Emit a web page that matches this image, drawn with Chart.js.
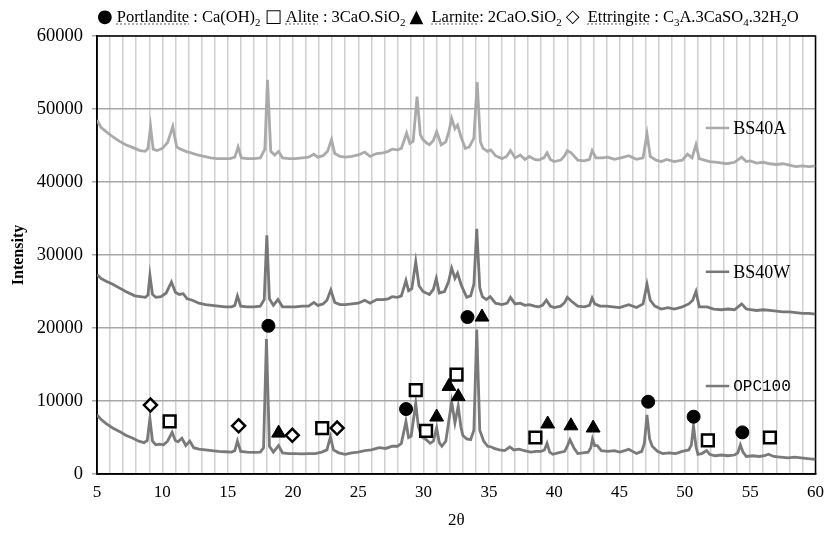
<!DOCTYPE html>
<html>
<head>
<meta charset="utf-8">
<script src="https://cdn.jsdelivr.net/npm/chart.js@4.4.0/dist/chart.umd.min.js"></script>
<style>
  body { margin: 0; background: #fff; }
  #wrap { position: relative; width: 832px; height: 533px; }
  #top-legend {
    position: absolute; top: 5px; left: 97px; white-space: nowrap;
    font-family: "Liberation Serif", serif; font-size: 16.5px; color: #000;
  }
  #top-legend .name { text-decoration: underline dotted #999; text-underline-offset: 2px; }
  #top-legend .sym { font-size: 18px; margin-right: 4px; font-family: "DejaVu Sans", sans-serif; }
  #top-legend sub { font-size: 11px; }
</style>
</head>
<body>
<div id="wrap">
  <canvas id="xrd_chart" width="832" height="533"></canvas>
  <div id="top-legend">
    <span class="sym">●</span><span class="name">Portlandite</span> : Ca(OH)<sub>2</sub>
    <span class="sym">□</span><span class="name">Alite</span> : 3CaO.SiO<sub>2</sub>
    <span class="sym">▲</span> <span class="name">Larnite</span>: 2CaO.SiO<sub>2</sub>
    <span class="sym">◇</span> <span class="name">Ettringite</span> : C<sub>3</sub>A.3CaSO<sub>4</sub>.32H<sub>2</sub>O
  </div>
</div>
<script>
// 2-theta positions and intensities
const opcX = [5.0,5.3,5.7,6.2,6.75,7.2,7.75,8.2,8.6,8.85,9.05,9.25,9.5,9.8,10.1,10.4,10.75,11.0,11.2,11.5,11.8,12.1,12.4,12.8,13.3,13.8,14.3,14.8,15.3,15.55,15.75,16.0,16.5,17.0,17.5,17.75,17.97,18.2,18.5,18.9,19.2,19.7,20.2,20.7,21.2,21.7,22.2,22.6,22.87,23.1,23.5,24.0,24.5,25.0,25.5,26.0,26.6,27.1,27.6,28.0,28.3,28.65,28.85,29.05,29.4,29.6,29.85,30.2,30.5,30.75,31.0,31.2,31.4,31.7,31.95,32.15,32.4,32.65,32.85,33.0,33.3,33.6,33.85,34.07,34.3,34.6,34.9,35.2,35.4,35.8,36.2,36.6,36.9,37.3,37.7,38.2,38.6,39.0,39.25,39.45,39.65,39.9,40.3,40.8,41.0,41.2,41.5,41.8,42.2,42.6,42.8,42.93,43.1,43.3,43.6,44.1,44.6,45.0,45.4,45.7,46.0,46.3,46.7,46.9,47.1,47.3,47.5,47.9,48.3,48.8,49.3,49.8,50.3,50.5,50.66,50.85,51.0,51.3,51.67,51.9,52.3,52.8,53.3,53.8,54.05,54.25,54.45,54.7,55.2,55.7,56.1,56.4,56.8,57.3,57.9,58.4,58.9,59.4,60.0];
const opcY = [8100,7500,6900,6300,5800,5300,4900,4500,4300,4600,7600,4500,4000,4100,4000,4500,5700,4600,4400,4900,3900,4500,3600,3400,3300,3200,3100,3050,3000,3200,4500,3100,3000,2950,3000,3600,18500,3800,3000,3900,2900,2800,2800,2750,2800,2800,3000,3300,5100,3300,2900,2700,2900,3000,3200,3300,3600,3500,3800,3800,4200,7200,5000,5200,9700,6500,5100,4700,4200,4500,6300,4300,3800,4500,7500,9900,7000,9300,6500,5300,4800,4700,6000,19800,6000,4500,3800,3700,3500,3300,3200,3700,3300,3400,3200,3000,3100,3100,3300,4200,3000,2700,2900,3100,3800,4700,3600,2800,2900,3000,3600,4800,3900,3900,3200,3100,3200,3000,3200,3400,3100,2800,3100,4200,8100,4800,3800,3100,2800,2900,2800,3100,3300,4000,6600,3800,2700,2800,3200,2700,2500,2600,2500,2600,2900,4000,3000,2400,2500,2400,2500,2700,2400,2300,2200,2300,2200,2100,2000];

const bswX = [5.0,5.3,5.7,6.2,6.7,7.2,7.9,8.3,8.7,8.9,9.05,9.25,9.5,9.9,10.3,10.7,11.0,11.3,11.6,11.9,12.3,12.8,13.3,13.8,14.3,14.8,15.3,15.55,15.75,16.0,16.5,17.0,17.5,17.8,18.0,18.2,18.5,18.85,19.2,19.7,20.2,20.7,21.2,21.6,21.9,22.3,22.6,22.9,23.2,23.6,24.0,24.5,25.0,25.5,25.9,26.4,26.9,27.3,27.6,28.0,28.3,28.65,28.85,29.1,29.4,29.65,29.95,30.2,30.45,30.75,30.97,31.2,31.6,31.9,32.15,32.4,32.6,32.9,33.3,33.6,33.85,34.07,34.3,34.5,34.8,35.1,35.5,36.0,36.4,36.65,37.0,37.4,37.75,38.1,38.5,38.8,39.1,39.4,39.7,40.0,40.5,40.8,41.0,41.3,41.8,42.3,42.7,42.9,43.1,43.5,44.0,44.5,45.0,45.7,46.3,46.8,47.1,47.35,47.7,48.2,48.7,49.2,49.8,50.3,50.6,50.85,51.1,51.7,52.2,52.8,53.3,53.8,54.35,54.7,55.5,56.0,56.5,57.0,57.5,58.0,58.5,59.0,59.5,60.0];
const bswY = [27300,26800,26400,26000,25500,25000,24400,24300,24200,24500,27200,24600,24200,24300,24800,26300,24900,24600,24700,24000,23800,23400,23200,23100,23000,22900,22900,23100,24400,23000,22900,22900,23000,23900,32700,24000,23100,23900,22900,22900,22900,23000,23000,23500,23100,23300,23800,25200,23500,23200,23200,23300,23400,23800,23400,23900,23900,24000,24300,24200,24400,26500,25100,25400,29100,25800,25000,24800,24600,25300,26800,24800,25000,26300,28200,26800,27500,25800,24200,24400,26000,33600,25500,24300,23900,24300,23400,23200,23400,24200,23300,23400,23100,23200,23000,22900,23100,23800,23000,22800,23000,23500,24200,23700,23000,22900,23100,24100,23300,23000,23000,22900,22800,23200,22800,23300,26000,23800,23000,22600,22800,22600,22900,23300,23800,25000,22900,22900,22600,22500,22600,22500,23300,22600,22400,22500,22400,22300,22200,22200,22100,22000,22000,21900];

const bsaX = [5.0,5.3,5.7,6.2,6.7,7.2,7.9,8.3,8.7,8.9,9.1,9.3,9.6,10.0,10.4,10.8,11.1,11.4,11.8,12.2,12.7,13.2,13.7,14.2,14.7,15.2,15.55,15.8,16.05,16.5,17.0,17.5,17.85,18.05,18.3,18.6,18.9,19.2,19.7,20.2,20.7,21.2,21.6,21.9,22.3,22.65,22.95,23.2,23.6,24.0,24.5,25.0,25.5,25.9,26.4,26.9,27.3,27.6,28.0,28.3,28.7,28.95,29.2,29.5,29.75,29.95,30.2,30.45,30.75,31.0,31.35,31.7,31.95,32.15,32.4,32.6,32.9,33.2,33.5,33.85,34.1,34.35,34.55,34.9,35.15,35.5,36.0,36.35,36.65,37.0,37.4,37.75,38.1,38.5,38.8,39.2,39.45,39.7,40.0,40.5,40.8,41.0,41.3,41.8,42.3,42.7,42.9,43.2,43.7,44.1,44.6,45.1,45.7,46.3,46.8,47.1,47.35,47.8,48.2,48.6,49.2,49.8,50.2,50.55,50.85,51.1,51.5,51.9,52.5,53.2,53.8,54.35,54.7,55.0,55.5,56.0,56.5,57.0,57.5,58.0,58.5,59.0,59.5,60.0];
const bsaY = [48500,47500,46900,46200,45600,45100,44600,44300,44200,44600,47600,44500,44300,44600,45400,47600,44800,44500,44200,44000,43700,43500,43300,43200,43200,43200,43400,44800,43300,43200,43200,43300,44500,54000,44200,43700,44200,43300,43200,43200,43300,43400,43800,43400,43600,44200,45800,43900,43500,43400,43500,43700,44100,43500,43900,44000,44200,44500,44400,44600,46700,45300,45600,51700,46500,45800,45400,45100,45700,46900,45100,45500,47000,48700,47300,47800,46000,44600,44800,46000,53700,45500,44600,44200,44400,43600,43200,43500,44300,43300,43700,43100,43500,43100,43000,43300,44000,43100,42800,43000,43600,44300,44000,43000,42900,43100,44300,43300,43300,43400,43100,43300,43600,43100,43300,46600,43500,43000,42800,43100,42800,43000,43800,43300,45100,43200,43000,42800,42700,42500,42700,43400,42800,42900,42600,42700,42500,42400,42500,42300,42100,42200,42100,42200];

// phase markers (2theta, intensity)
const portlanditeX = [18.12, 28.66, 33.36, 47.19, 50.67, 54.4];
const portlanditeY = [20300, 8900, 21500, 9900, 7850, 5700];
const aliteX = [10.56, 22.24, 29.4, 30.19, 32.52, 38.56, 51.76, 56.51];
const aliteY = [7200, 6300, 11500, 5900, 13600, 5000, 4600, 5000];
const larniteX = [18.9, 31.0, 31.94, 32.65, 34.47, 39.5, 41.28, 42.98];
const larniteY = [5600, 7800, 12000, 10600, 21500, 6850, 6600, 6300];
const ettringiteX = [9.09, 15.84, 19.95, 23.38];
const ettringiteY = [9450, 6600, 5300, 6300];

const xTicks = [5, 10, 15, 20, 25, 30, 35, 40, 45, 50, 55, 60];
const yTicks = [0, 10000, 20000, 30000, 40000, 50000, 60000];

const pts = (xs, ys) => xs.map((x, i) => ({ x: x, y: ys[i] }));

const serif = "'Liberation Serif', 'Times New Roman', serif";

function lineSet(label, xs, ys, color) {
    return {
        label: label,
        data: pts(xs, ys),
        showLine: true,
        borderColor: color,
        borderWidth: 2.8,
        pointRadius: 0,
        tension: 0,
        order: 2
    };
}

function markerSet(label, xs, ys, style, radius, fill) {
    return {
        label: label,
        data: pts(xs, ys),
        showLine: false,
        pointStyle: style,
        pointRadius: radius,
        pointBackgroundColor: fill,
        pointBorderColor: '#000',
        pointBorderWidth: fill === '#000' ? 1 : 2.5,
        order: 1
    };
}

// black frame round the plot area
const framePlugin = {
    id: 'frame',
    beforeDatasetsDraw(chart) {
        const a = chart.chartArea;
        const ctx = chart.ctx;
        ctx.save();
        ctx.strokeStyle = '#000';
        ctx.lineWidth = 1.5;
        ctx.strokeRect(a.left, a.top, a.right - a.left, a.bottom - a.top);
        ctx.restore();
    }
};

// little series labels inside the plot
const seriesLabels = [
    { text: 'BS40A', y: 47400, color: '#aaaaaa', font: "18px " + serif },
    { text: 'BS40W', y: 27700, color: '#777777', font: "18px " + serif },
    { text: 'OPC100', y: 12050, color: '#7a7a7a', font: "16px 'Liberation Mono', monospace" }
];
const labelPlugin = {
    id: 'seriesLabels',
    afterDatasetsDraw(chart) {
        const xs = chart.scales.x, ys = chart.scales.y;
        const ctx = chart.ctx;
        ctx.save();
        seriesLabels.forEach(l => {
            const y = ys.getPixelForValue(l.y);
            ctx.strokeStyle = l.color;
            ctx.lineWidth = 2.5;
            ctx.beginPath();
            ctx.moveTo(xs.getPixelForValue(51.6), y);
            ctx.lineTo(xs.getPixelForValue(53.4), y);
            ctx.stroke();
            ctx.fillStyle = '#000';
            ctx.font = l.font;
            ctx.textBaseline = 'middle';
            ctx.fillText(l.text, xs.getPixelForValue(53.7), y + 1);
        });
        ctx.restore();
    }
};

const ctx = document.getElementById('xrd_chart').getContext('2d');

new Chart(ctx, {
    type: 'scatter',
    data: {
        datasets: [
            lineSet('BS40A', bsaX, bsaY, '#aaaaaa'),
            lineSet('BS40W', bswX, bswY, '#777777'),
            lineSet('OPC100', opcX, opcY, '#7a7a7a'),
            markerSet('Portlandite', portlanditeX, portlanditeY, 'circle', 6.5, '#000'),
            markerSet('Alite', aliteX, aliteY, 'rect', 8.3, '#fff'),
            markerSet('Larnite', larniteX, larniteY, 'triangle', 8, '#000'),
            markerSet('Ettringite', ettringiteX, ettringiteY, 'rectRot', 6.5, '#fff')
        ]
    },
    options: {
        responsive: false,
        animation: false,
        layout: { padding: { top: 36, right: 13, left: 0, bottom: 0 } },
        scales: {
            x: {
                type: 'linear',
                min: 5,
                max: 60,
                afterFit: s => { s.height = 59; },
                ticks: {
                    stepSize: 1,
                    autoSkip: false,
                    maxRotation: 0,
                    padding: 8,
                    color: '#000',
                    font: { family: serif, size: 17 },
                    callback: v => xTicks.includes(v) ? v : ''
                },
                grid: { color: '#d0d0d0', lineWidth: 1.5, drawTicks: false },
                border: { color: '#000', width: 1.5 },
                title: {
                    display: true,
                    text: '2θ',
                    color: '#000',
                    font: { family: serif, size: 17 },
                    padding: { top: 0, bottom: 2 }
                }
            },
            y: {
                min: 0,
                max: 60000,
                afterFit: s => { s.width = 97; },
                afterBuildTicks: s => { s.ticks = yTicks.map(v => ({ value: v })); },
                ticks: {
                    padding: 9,
                    color: '#000',
                    font: { family: serif, size: 18.5 },
                    callback: v => String(v)
                },
                grid: { color: '#a8a8a8', lineWidth: 1.5, tickLength: 5 },
                border: { color: '#000', width: 1.5 },
                title: {
                    display: true,
                    text: 'Intensity',
                    color: '#000',
                    font: { family: serif, size: 16, weight: 'bold' },
                    padding: { top: 9, bottom: 0 }
                }
            }
        },
        plugins: {
            legend: { display: false },
            tooltip: { enabled: false }
        }
    },
    plugins: [framePlugin, labelPlugin]
});
</script>
</body>
</html>
